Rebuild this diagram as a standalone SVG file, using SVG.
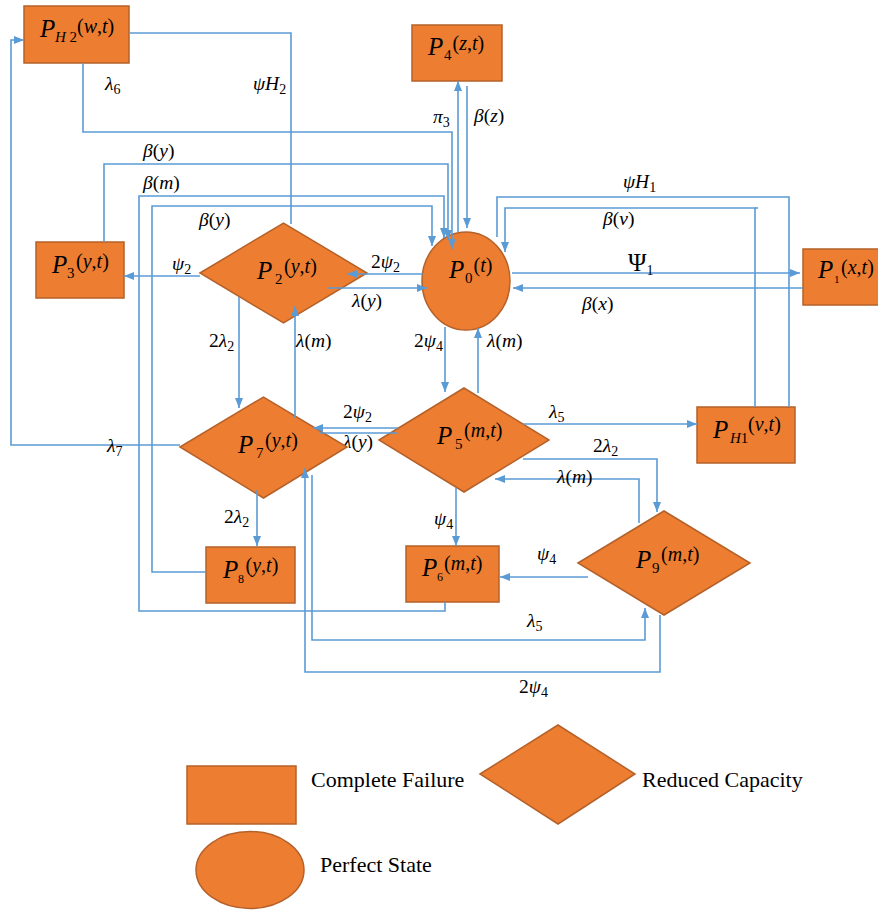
<svg xmlns="http://www.w3.org/2000/svg" width="878" height="911" viewBox="0 0 878 911">
<style>
.n{fill:#ED7D31;stroke:#B5612A;stroke-width:1.5}
.c{fill:none;stroke:#5B9BD5;stroke-width:1.6}
.a{marker-end:url(#ah)}
text{font-family:"Liberation Serif","DejaVu Serif",serif;fill:#000}
.i{font-style:italic}
.P{font-size:25px;font-style:italic}
.s{font-size:15px}
.g{font-size:20px}
.e{font-size:19.5px}
.es{font-size:14px}
.lg{font-size:22px}
</style>
<defs>
<marker id="ah" viewBox="0 0 10 10" refX="10" refY="5" markerWidth="10" markerHeight="10" markerUnits="userSpaceOnUse" orient="auto"><path d="M0,1 L10,5 L0,9 z" fill="#5B9BD5"/></marker>
</defs>
<rect width="878" height="911" fill="#fff"/>

<!-- label under P7 -->
<text class="e" x="343" y="448"><tspan class="i">λ</tspan>(<tspan class="i">y</tspan>)</text>

<g id="PH2"><rect class="n" x="24" y="6" width="105" height="57"/>
<text><tspan class="P" x="40" y="37">P</tspan><tspan class="s" x="55" y="42"><tspan class="i">H</tspan> 2</tspan><tspan class="g" x="77" y="33">(<tspan class="i">w</tspan>,<tspan class="i">t</tspan>)</tspan></text></g>
<g id="P4"><rect class="n" x="412" y="25" width="90" height="56"/>
<text><tspan class="P" x="428" y="55">P</tspan><tspan class="s" x="444" y="60">4</tspan><tspan class="g" x="452.5" y="50">(<tspan class="i">z</tspan>,<tspan class="i">t</tspan>)</tspan></text></g>
<g id="P0"><ellipse class="n" cx="466" cy="281" rx="44" ry="49"/>
<text><tspan class="P" x="449" y="278">P</tspan><tspan class="s" x="465" y="283">0</tspan><tspan class="g" x="473.5" y="272">(<tspan class="i">t</tspan>)</tspan></text></g>
<g id="P1"><rect class="n" x="803" y="249" width="90" height="56"/>
<text><tspan class="P" x="818" y="278">P</tspan><tspan class="s" x="834" y="283" style="font-size:11px">1</tspan><tspan class="g" x="841" y="274">(<tspan class="i">x</tspan>,<tspan class="i">t</tspan>)</tspan></text></g>
<g id="PH1"><rect class="n" x="697" y="407" width="98" height="56"/>
<text><tspan class="P" x="713" y="438">P</tspan><tspan class="s" x="730" y="443"><tspan class="i">H</tspan>1</tspan><tspan class="g" x="748" y="431">(<tspan class="i">v</tspan>,<tspan class="i">t</tspan>)</tspan></text></g>
<g id="P3"><rect class="n" x="36" y="242" width="88" height="56"/>
<text><tspan class="P" x="52" y="273">P</tspan><tspan class="s" x="67" y="278">3</tspan><tspan class="g" x="76" y="268">(<tspan class="i">y</tspan>,<tspan class="i">t</tspan>)</tspan></text></g>
<g id="P2"><polygon class="n" points="200,273 283.5,223 367,273 283.5,323"/>
<text><tspan class="P" x="257" y="279">P</tspan><tspan class="s" x="275" y="284">2</tspan><tspan class="g" x="284" y="273">(<tspan class="i">y</tspan>,<tspan class="i">t</tspan>)</tspan></text></g>
<g id="P7"><polygon class="n" points="180,447 263.5,397 347,447 263.5,498"/>
<text><tspan class="P" x="238" y="453">P</tspan><tspan class="s" x="256" y="458">7</tspan><tspan class="g" x="265" y="447">(<tspan class="i">y</tspan>,<tspan class="i">t</tspan>)</tspan></text></g>
<g id="P5"><polygon class="n" points="379,440 464,388 549,440 464,492"/>
<text><tspan class="P" x="437" y="444">P</tspan><tspan class="s" x="455" y="449">5</tspan><tspan class="g" x="464" y="437">(<tspan class="i">m</tspan>,<tspan class="i">t</tspan>)</tspan></text></g>
<g id="P9"><polygon class="n" points="578,563 664,511 750,563 664,615"/>
<text><tspan class="P" x="636" y="568">P</tspan><tspan class="s" x="652" y="573">9</tspan><tspan class="g" x="661" y="561">(<tspan class="i">m</tspan>,<tspan class="i">t</tspan>)</tspan></text></g>
<g id="P6"><rect class="n" x="406" y="546" width="93" height="56"/>
<text><tspan class="P" x="422" y="576">P</tspan><tspan class="s" x="437" y="581" style="font-size:12px">6</tspan><tspan class="g" x="444" y="570">(<tspan class="i">m</tspan>,<tspan class="i">t</tspan>)</tspan></text></g>
<g id="P8"><rect class="n" x="206" y="547" width="89" height="56"/>
<text><tspan class="P" x="223" y="578">P</tspan><tspan class="s" x="238" y="583" style="font-size:12px">8</tspan><tspan class="g" x="245.5" y="572">(<tspan class="i">y</tspan>,<tspan class="i">t</tspan>)</tspan></text></g>

<g id="connectors">
<path class="c" d="M129,33 H291 V224"/>
<path class="c a" d="M180,445 H11 V40 H24"/>
<path class="c a" d="M83,63 V132 H452 V249"/>
<path class="c a" d="M104,242 V164 H448 V240"/>
<path class="c a" d="M445,602 V611 H139 V196 H444 V238"/>
<path class="c a" d="M206,572 H152 V206 H432 V246"/>
<path class="c a" d="M458,232 V81"/>
<path class="c a" d="M467,86 V228"/>
<path class="c" d="M789,407 V197 H497 V237"/>
<path class="c a" d="M755,407 V208 H505 V252"/>
<path class="c" d="M755,208 H758"/>
<path class="c a" d="M512,273 H800"/>
<path class="c a" d="M803,288 H513"/>
<path class="c a" d="M523,424 H697"/>
<path class="c a" d="M523,459 H657 V512"/>
<path class="c a" d="M639,523 V479 H495"/>
<path class="c a" d="M588,577 H500"/>
<path class="c a" d="M456,488 V546"/>
<path class="c a" d="M312,475 V640 H645 V608"/>
<path class="c a" d="M660,615 V672 H305 V468"/>
<path class="c a" d="M398,428 H313"/>
<path class="c" d="M320,433 H398"/>
<path class="c a" d="M423,274 H347"/>
<path class="c a" d="M328,288 H427"/>
<path class="c a" d="M200,276 H124"/>
<path class="c a" d="M239,297 V408"/>
<path class="c a" d="M295,418 V306"/>
<path class="c a" d="M445,327 V392"/>
<path class="c a" d="M478,393 V328"/>
<path class="c a" d="M257,490 V546"/>
</g>

<g id="edge-labels" class="e">
<text x="105" y="90"><tspan class="i">λ</tspan><tspan class="es" dy="4">6</tspan></text>
<text x="253" y="90"><tspan class="i">ψH</tspan><tspan class="es" dy="4">2</tspan></text>
<text x="143" y="157"><tspan class="i">β</tspan>(<tspan class="i">y</tspan>)</text>
<text x="143" y="189"><tspan class="i">β</tspan>(<tspan class="i">m</tspan>)</text>
<text x="199" y="226"><tspan class="i">β</tspan>(<tspan class="i">y</tspan>)</text>
<text x="433" y="123"><tspan class="i">π</tspan><tspan class="es" dy="4">3</tspan></text>
<text x="474" y="122"><tspan class="i">β</tspan>(<tspan class="i">z</tspan>)</text>
<text x="623" y="188"><tspan class="i">ψH</tspan><tspan class="es" dy="4">1</tspan></text>
<text x="603" y="225"><tspan class="i">β</tspan>(<tspan class="i">v</tspan>)</text>
<text x="628" y="271" style="font-size:25px">Ψ<tspan class="es" dy="4">1</tspan></text>
<text x="582" y="310"><tspan class="i">β</tspan>(<tspan class="i">x</tspan>)</text>
<text x="487" y="347"><tspan class="i">λ</tspan>(<tspan class="i">m</tspan>)</text>
<text x="549" y="418"><tspan class="i">λ</tspan><tspan class="es" dy="4">5</tspan></text>
<text x="593" y="452">2<tspan class="i">λ</tspan><tspan class="es" dy="4">2</tspan></text>
<text x="172" y="270"><tspan class="i">ψ</tspan><tspan class="es" dy="4">2</tspan></text>
<text x="371" y="268">2<tspan class="i">ψ</tspan><tspan class="es" dy="4">2</tspan></text>
<text x="352" y="307"><tspan class="i">λ</tspan>(<tspan class="i">y</tspan>)</text>
<text x="209" y="347">2<tspan class="i">λ</tspan><tspan class="es" dy="4">2</tspan></text>
<text x="296" y="347"><tspan class="i">λ</tspan>(<tspan class="i">m</tspan>)</text>
<text x="414" y="347">2<tspan class="i">ψ</tspan><tspan class="es" dy="4">4</tspan></text>
<text x="343" y="418">2<tspan class="i">ψ</tspan><tspan class="es" dy="4">2</tspan></text>
<text x="107" y="452"><tspan class="i">λ</tspan><tspan class="es" dy="4">7</tspan></text>
<text x="434" y="525"><tspan class="i">ψ</tspan><tspan class="es" dy="4">4</tspan></text>
<text x="537" y="560"><tspan class="i">ψ</tspan><tspan class="es" dy="4">4</tspan></text>
<text x="557" y="483"><tspan class="i">λ</tspan>(<tspan class="i">m</tspan>)</text>
<text x="527" y="627"><tspan class="i">λ</tspan><tspan class="es" dy="4">5</tspan></text>
<text x="519" y="693">2<tspan class="i">ψ</tspan><tspan class="es" dy="4">4</tspan></text>
<text x="224" y="523">2<tspan class="i">λ</tspan><tspan class="es" dy="4">2</tspan></text>
</g>

<g id="legend">
<g id="legend-failure"><rect class="n" x="187" y="766" width="109" height="58"/><text class="lg" x="311" y="787">Complete Failure</text></g>
<g id="legend-reduced"><polygon class="n" points="480,774 558,725 635,774 558,824"/><text class="lg" x="642" y="787">Reduced Capacity</text></g>
<g id="legend-perfect"><ellipse class="n" cx="250" cy="870" rx="54" ry="38.5"/><text class="lg" x="320" y="872">Perfect State</text></g>
</g>
</svg>
